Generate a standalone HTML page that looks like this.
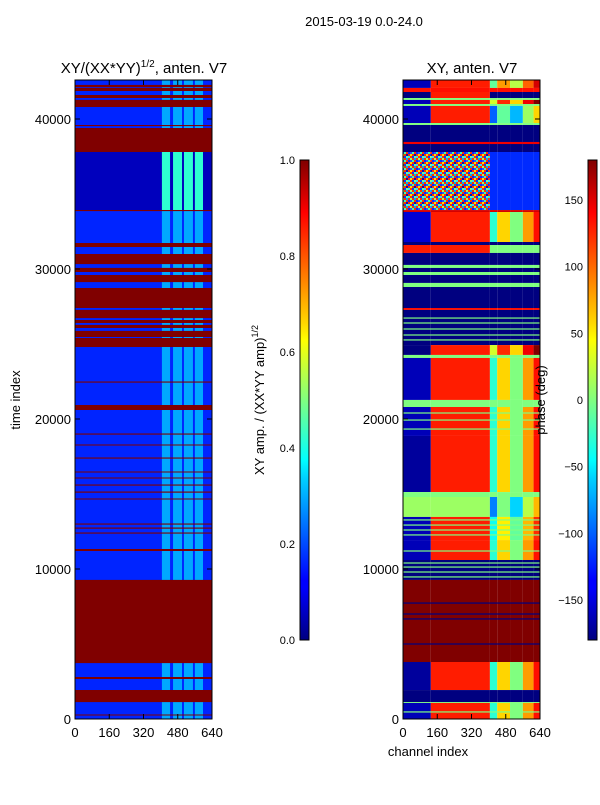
<!DOCTYPE html>
<html><head><meta charset="utf-8"><style>
html,body{margin:0;padding:0;background:#fff;}
svg text{font-family:"Liberation Sans",sans-serif;fill:#000;}
</style></head><body>
<svg id="fig" width="600" height="800" viewBox="0 0 600 800" xmlns="http://www.w3.org/2000/svg">
<rect width="600" height="800" fill="#fff"/>
<defs>
<linearGradient id="jetGrad" x1="0" y1="1" x2="0" y2="0">
<stop offset="0" stop-color="#000080"/><stop offset="0.11" stop-color="#0000ff"/><stop offset="0.125" stop-color="#0000ff"/>
<stop offset="0.34" stop-color="#00d4ff"/><stop offset="0.375" stop-color="#00ffff"/><stop offset="0.5" stop-color="#80ff80"/>
<stop offset="0.625" stop-color="#ffff00"/><stop offset="0.66" stop-color="#ffd800"/><stop offset="0.89" stop-color="#ff0000"/>
<stop offset="1" stop-color="#800000"/>
</linearGradient>
<pattern id="noise" width="8" height="8" patternUnits="userSpaceOnUse">
<rect width="8" height="8" fill="#ff3000"/>
<rect x="0" y="0" width="2" height="2" fill="#0030ff"/><rect x="4" y="0" width="2" height="2" fill="#40ffb0"/>
<rect x="2" y="2" width="2" height="2" fill="#ffe000"/><rect x="6" y="2" width="2" height="2" fill="#0010c0"/>
<rect x="0" y="4" width="2" height="2" fill="#30e0ff"/><rect x="4" y="4" width="2" height="2" fill="#0040ff"/>
<rect x="2" y="6" width="2" height="2" fill="#a0ff60"/><rect x="6" y="6" width="2" height="2" fill="#00a0ff"/>
<rect x="2" y="0" width="2" height="2" fill="#3050ff"/><rect x="6" y="4" width="2" height="2" fill="#80ff80"/>
</pattern>
</defs>
<text x="364" y="26" font-size="13" text-anchor="middle">2015-03-19 0.0-24.0</text>
<text x="144" y="73" font-size="15" text-anchor="middle">XY/(XX*YY)<tspan font-size="10" dy="-6">1/2</tspan><tspan dy="6">, anten. V7</tspan></text>
<text x="472" y="73" font-size="15" text-anchor="middle">XY, anten. V7</text>
<g id="left-heat"></g>
<g id="right-heat"></g>
<g id="axes"></g>
<rect x="300" y="160" width="9" height="480" fill="url(#jetGrad)" stroke="#000" stroke-width="1"/>
<rect x="588" y="160" width="9" height="480" fill="url(#jetGrad)" stroke="#000" stroke-width="1"/>
<text transform="translate(20,400) rotate(-90)" font-size="13" text-anchor="middle">time index</text>
<text x="428" y="756" font-size="13" text-anchor="middle">channel index</text>
<text transform="translate(264,400) rotate(-90)" font-size="13" text-anchor="middle">XY amp. / (XX*YY amp)<tspan font-size="9" dy="-6">1/2</tspan></text>
<text transform="translate(545,400) rotate(-90)" font-size="13" text-anchor="middle">phase (deg)</text>
</svg>
<script>
// ---- left panel data (time index bands, amplitude values 0..1) ----
const leftBandStart = [0, 33930, 42130, 41870, 41400, 40800, 39530, 37800, 33870, 31470, 30330, 29800, 29130, 27400, 26730, 26400, 26070, 25470, 24800, 22430, 20600, 18970, 18240, 17370, 16440, 16040, 15570, 15100, 14640, 12970, 12700, 12370, 11200, 3730, 2670, 1130, 240];
const leftBandEnd   = [42600, 37800, 42270, 42070, 41600, 41270, 39600, 39400, 33930, 31730, 31000, 30070, 29600, 28730, 27270, 26600, 26270, 25870, 25400, 22500, 20930, 19030, 18300, 17430, 16500, 16100, 15630, 15160, 14700, 13030, 12760, 12430, 11330, 9270, 2800, 1930, 300];
const leftBandValue = [0.16, 0.06, 1, 1, 1, 1, 1, 1, 1, 1, 1, 1, 1, 1, 1, 1, 1, 1, 1, 1, 1, 1, 1, 1, 1, 1, 1, 1, 1, 1, 1, 1, 1, 1, 1, 1, 1];
const leftStripeValue = [0.29, 0.42];
const stripeChanStart = [406, 458, 509, 560];
const stripeChanEnd   = [444, 500, 551, 598];
// ---- right panel data (phase, degrees) ----
const rBandStart = [42070, 41800, 41400, 41270, 41000, 40870, 39730, 39600, 37800, 38330, 33930, 33800, 31800, 31600, 31070, 30270, 30070, 29800, 29600, 29070, 28800, 27400, 27270, 24930, 24270, 24070, 21270, 20800, 18870, 15130, 14800, 13470, 11930, 10600, 9270, 3800, 1930, 1130, 1070, 0];
const rBandEnd   = [42600, 42070, 41800, 41400, 41270, 41000, 40870, 39730, 39600, 38470, 37800, 33930, 33800, 31800, 31600, 31070, 30270, 30070, 29800, 29600, 29070, 28800, 27400, 27270, 24930, 24270, 24070, 21270, 20800, 18870, 15130, 14800, 13470, 11930, 10600, 9270, 3800, 1930, 1130, 1070];
const rBandLeft  = [-160, 130, -180, 0, -160, 0, -160, 0, -180, 140, 999, 150, -150, -180, 125, -180, 0, -180, 0, -180, 0, -180, 130, -180, -180, 0, -160, 0, -160, -170, 0, 10, -160, -160, -180, 180, -170, -180, 0, -160];
const rBandMid   = [125, 130, 125, 0, 125, 0, 125, 0, -180, 140, 999, 150, 125, -180, 125, -180, 0, -180, 0, -180, 0, -180, 130, -180, 125, 0, 125, 0, 125, 125, 0, 10, 125, 125, -180, 180, 125, -180, 0, 125];
const rBandRight = [60, 130, -180, 0, 100, 0, -30, 0, -180, 140, -120, 150, 40, -180, 0, -180, 0, -180, 0, -180, 0, -180, 130, -180, 100, 0, 40, 0, 40, 40, 0, -20, 30, 40, -180, 180, 40, -180, 0, 40];
const rRightChanStart = [406, 440, 500, 560, 610];
const rRightChanEnd   = [440, 500, 560, 610, 640];
const rRightOffset    = [-70, 20, -40, 40, 90];
const rLineAt  = [26730, 26400, 26000, 25600, 25270, 20400, 19930, 19330, 13270, 12930, 12600, 12270, 11200, 10400, 10130, 9800, 9470, 7730, 7000, 6670, 5000, 470];
const rLineVal = [0, 0, 0, 0, 0, 0, 0, 0, 0, 0, 0, 0, 0, 0, 0, 0, 0, -180, -180, -180, -180, 0];
const rChanSplit = [130, 406];
const yTicks = [0, 10000, 20000, 30000, 40000];
const xTicks = [0, 160, 320, 480, 640];
const ampTicks = ["0.0", "0.2", "0.4", "0.6", "0.8", "1.0"];
const phaseTicks = [-150, -100, -50, 0, 50, 100, 150];

const NS = "http://www.w3.org/2000/svg";
const Y0 = 719, Y1 = 80, YMAX = 42600;
const yScale = v => Y0 - (v / YMAX) * (Y0 - Y1);
const panels = [{x0: 75, x1: 212}, {x0: 403, x1: 540}];
const xScale = (p, c) => panels[p].x0 + (c / 640) * (panels[p].x1 - panels[p].x0);

function jet(t) {
  t = Math.max(0, Math.min(1, t));
  const c = v => Math.round(255 * Math.max(0, Math.min(1, v)));
  return `rgb(${c(1.5 - Math.abs(4 * t - 3))},${c(1.5 - Math.abs(4 * t - 2))},${c(1.5 - Math.abs(4 * t - 1))})`;
}
const phaseColor = d => d === 999 ? "url(#noise)" : jet((Math.max(-180, Math.min(180, d)) + 180) / 360);

function rect(g, x, y, w, h, fill) {
  const r = document.createElementNS(NS, "rect");
  r.setAttribute("x", x); r.setAttribute("y", y);
  r.setAttribute("width", Math.max(w, 0)); r.setAttribute("height", Math.max(h, 1));
  r.setAttribute("fill", fill);
  
  
  g.appendChild(r);
  return r;
}
function cellRect(g, p, c0, c1, t0, t1, fill) {
  const x = xScale(p, c0), y = yScale(t1);
  return rect(g, x, y, xScale(p, c1) - x, yScale(t0) - y, fill);
}

const lg = document.getElementById("left-heat");
leftBandStart.forEach((s, i) => {
  const v = leftBandValue[i];
  cellRect(lg, 0, 0, 640, s, leftBandEnd[i], jet(v));
  if (v < 0.9) {
    const sv = leftStripeValue[Math.min(i, leftStripeValue.length - 1)];
    stripeChanStart.forEach((c, k) => {
      cellRect(lg, 0, c, stripeChanEnd[k], s, leftBandEnd[i], jet(sv));
    });
  }
});
leftBandStart.forEach((s, i) => {
  if (leftBandValue[i] > 0.9) cellRect(lg, 0, 0, 640, s, leftBandEnd[i], jet(1));
});

const rg = document.getElementById("right-heat");
rBandStart.forEach((s, i) => {
  const e = rBandEnd[i];
  cellRect(rg, 1, 0, rChanSplit[0], s, e, phaseColor(rBandLeft[i]));
  cellRect(rg, 1, rChanSplit[0], rChanSplit[1], s, e, phaseColor(rBandMid[i]));
  const base = rBandRight[i];
  const mixed = base > -100 && base < 110 && base !== 0;
  rRightChanStart.forEach((c, k) => {
    const val = mixed ? base + rRightOffset[k] : base;
    cellRect(rg, 1, c, rRightChanEnd[k], s, e, phaseColor(val));
  });
});
rLineAt.forEach((t, i) => {
  cellRect(rg, 1, 0, 640, t - 40, t + 40, phaseColor(rLineVal[i]));
});

const ax = document.getElementById("axes");
function line(x1, y1, x2, y2, name) {
  const l = document.createElementNS(NS, "line");
  l.setAttribute("x1", x1); l.setAttribute("y1", y1); l.setAttribute("x2", x2); l.setAttribute("y2", y2);
  l.setAttribute("stroke", "#000"); l.setAttribute("stroke-width", "1");
  
  
  ax.appendChild(l);
}
function text(x, y, s, anchor, name, size) {
  const t = document.createElementNS(NS, "text");
  t.setAttribute("x", x); t.setAttribute("y", y); t.setAttribute("text-anchor", anchor);
  t.setAttribute("font-size", size || 13);
  t.textContent = s;
  
  
  ax.appendChild(t);
}
panels.forEach((p, pi) => {
  const f = document.createElementNS(NS, "rect");
  f.setAttribute("x", p.x0); f.setAttribute("y", Y1);
  f.setAttribute("width", p.x1 - p.x0); f.setAttribute("height", Y0 - Y1);
  f.setAttribute("fill", "none"); f.setAttribute("stroke", "#000");
  
  
  ax.appendChild(f);
  yTicks.forEach(v => {
    const y = yScale(v);
    line(p.x0, y, p.x0 + 5, y, "y-tick");
    line(p.x1, y, p.x1 - 5, y, "y-tick");
    text(p.x0 - 4, y + 5, String(v), "end", "y-tick-label");
  });
  xTicks.forEach(c => {
    const x = xScale(pi, c);
    line(x, Y0, x, Y0 - 5, "x-tick");
    line(x, Y1, x, Y1 + 5, "x-tick");
    text(x, Y0 + 18, String(c), "middle", "x-tick-label");
  });
});
ampTicks.forEach((s, i) => {
  const y = 640 - i * 96;
  line(300, y, 309, y, "colorbar-tick");
  text(295, y + 4, s, "end", "colorbar-tick-label", 11);
});
phaseTicks.forEach(d => {
  const y = 640 - ((d + 180) / 360) * 480;
  line(588, y, 597, y, "colorbar-tick");
  text(583, y + 4, d < 0 ? "\u2212" + Math.abs(d) : String(d), "end", "colorbar-tick-label", 11);
});
</script>
</body></html>
